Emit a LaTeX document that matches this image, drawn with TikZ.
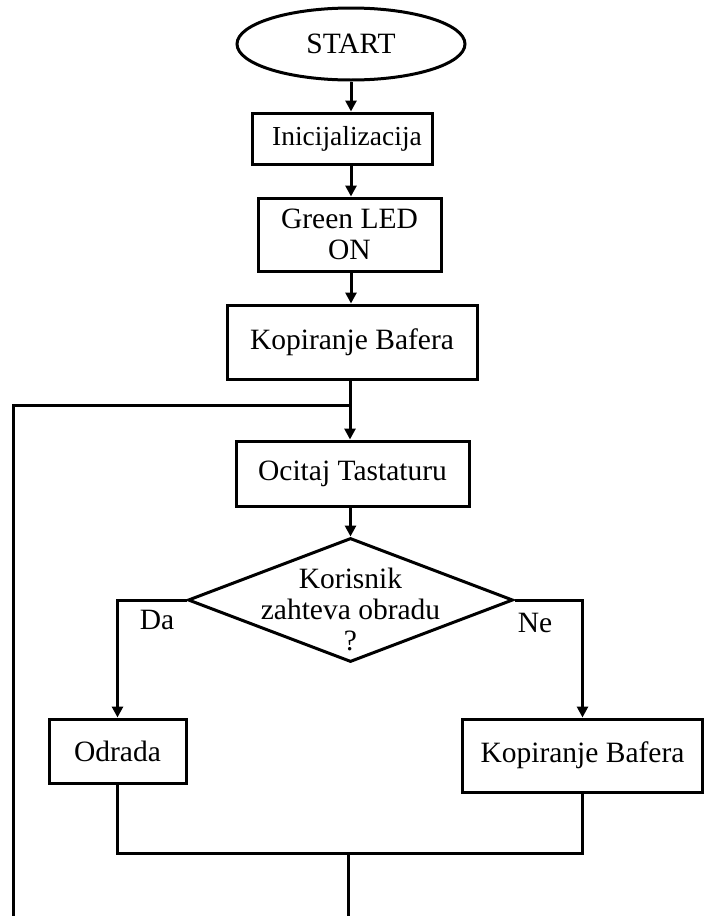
\documentclass[tikz,border=0pt]{standalone}
\usepackage{fontspec}
\setmainfont{Liberation Serif}
\usetikzlibrary{shapes.geometric,arrows.meta}
\begin{document}
\begin{tikzpicture}[x=1pt,y=-1pt,
  every node/.style={font=\fontsize{29.5}{31}\selectfont, inner sep=0pt},
  conn/.style={line width=3pt},
  flow/.style={conn,-{Triangle[length=11pt,width=11pt]}},
  box/.style={draw, rectangle, line width=3pt},
]
\useasboundingbox[fill=white] (0,0) rectangle (704,916);

% main column
\node[draw, ellipse, line width=3pt, minimum width=228pt, minimum height=72pt] (start) at (351,44) {START};
\node[box, minimum width=180pt, minimum height=51pt] (init) at (342,138.5) {};
\node[font=\fontsize{27.5}{31}\selectfont] (inittext) at (347,139) {Inicijalizacija};
\node[box, minimum width=183pt, minimum height=73pt, align=center] (green) at (349.5,234.5) {Green LED\\ON};
\node[box, minimum width=250pt, minimum height=74pt] (kop1) at (352,342) {Kopiranje Bafera};
\node[box, minimum width=233pt, minimum height=65pt] (ocitaj) at (352.5,473.5) {Ocitaj Tastaturu};
\node[draw, diamond, line width=3pt, minimum width=325pt, minimum height=124pt] (dec) at (350.5,600) {};
\node[align=center] (dectext) at (350.5,609) {Korisnik\\zahteva obradu\\?};

% branches
\node[box, minimum width=137pt, minimum height=64pt] (odrada) at (117.5,751) {Odrada};
\node[box, minimum width=240pt, minimum height=73pt] (kop2) at (582.5,755.5) {Kopiranje Bafera};
\node (da) at (157,620) {Da};
\node (ne) at (535,623) {Ne};

% helper points of the loop
\coordinate (loop) at (350,405);
\coordinate (loopend) at (13,916);
\coordinate (merge) at (348,853);

% connectors
\draw[flow] (start.south) -- (start.south |- init.north);
\draw[flow] (start.south |- init.south) -- (start.south |- green.north);
\draw[flow] (start.south |- green.south) -- (start.south |- kop1.north);
\draw[flow] (kop1.south -| loop) -- (ocitaj.north -| loop);
\draw[conn] (loop) -| (loopend);
\draw[flow] (ocitaj.south -| dec.north) -- (dec.north);
\draw[flow] (dec.west) -| (odrada.north);
\draw[flow] (dec.east) -| (kop2.north);
\draw[conn] (odrada.south) |- (merge) -| (kop2.south);
\draw[conn] (merge) -- (merge |- loopend);
\end{tikzpicture}
\end{document}
